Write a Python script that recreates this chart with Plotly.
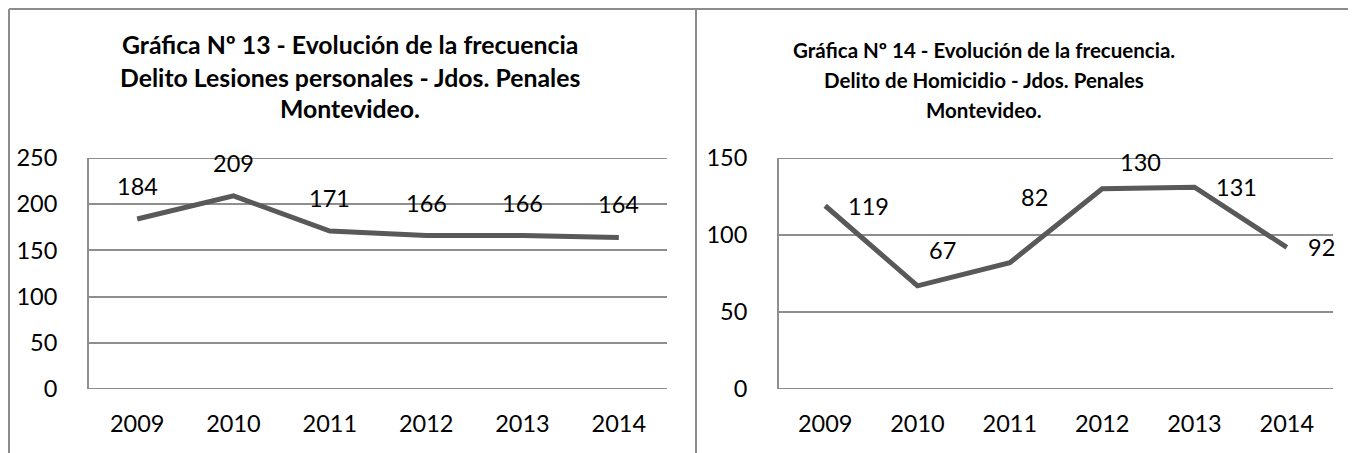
import plotly.graph_objects as go

years = ["2009", "2010", "2011", "2012", "2013", "2014"]
lesiones = [184, 209, 171, 166, 166, 164]
homicidio = [119, 67, 82, 130, 131, 92]
y_max_left = 250
y_max_right = 150

title_left = ["Gráfica Nº 13 - Evolución de la frecuencia",
              "Delito Lesiones personales - Jdos. Penales",
              "Montevideo."]
title_right = ["Gráfica Nº 14 - Evolución de la frecuencia.",
               "Delito de Homicidio - Jdos. Penales",
               "Montevideo."]

# label offsets (pixels) for data labels
left_shift = [(0, 33)] * 6
right_shift = [(43, 0), (25, 36), (25, 66), (38, 27), (42, 0), (35, 0)]

W, H = 1356, 453
OFF = 8  # page body margin
FONT = "Lato"
LINE = "#595959"
GRID = "#8e8e8e"
FS = 23.5

fig = go.Figure()
fig.add_trace(go.Scatter(x=years, y=lesiones, mode="lines",
                         line=dict(color=LINE, width=5), xaxis="x", yaxis="y",
                         hoverinfo="skip"))
fig.add_trace(go.Scatter(x=years, y=homicidio, mode="lines",
                         line=dict(color=LINE, width=5), xaxis="x2", yaxis="y2",
                         hoverinfo="skip"))

def px_x(p):
    return max(p - OFF, 1) / W

def px_y(p):
    return 1 - max(p - OFF, 1) / H

ydom = [px_y(389), px_y(158)]
common_x = dict(type="category", range=[-0.5, 5.5], showgrid=False, showline=False,
                zeroline=False, ticks="", tickfont=dict(family=FONT, size=FS, color="#000"),
                ticklabelstandoff=18, automargin=False)
common_y = dict(showgrid=True, gridcolor=GRID, gridwidth=2, showline=True, linecolor=GRID,
                linewidth=2, zeroline=False, ticks="", dtick=50, automargin=False,
                tickfont=dict(family=FONT, size=FS, color="#000"), ticklabelstandoff=25)

fig.update_layout(
    template="none",
    width=W, height=H, autosize=False,
    margin=dict(l=0, r=0, t=0, b=0, pad=0),
    paper_bgcolor="white", plot_bgcolor="white",
    showlegend=False,
    xaxis=dict(domain=[px_x(89), px_x(667)], anchor="y", **common_x),
    yaxis=dict(domain=ydom, anchor="x", range=[0, y_max_left], **common_y),
    xaxis2=dict(domain=[px_x(779), px_x(1333)], anchor="y2", **common_x),
    yaxis2=dict(domain=ydom, anchor="x2", range=[0, y_max_right], **common_y),
)

ann = []
for i, v in enumerate(lesiones):
    dx, dy = left_shift[i]
    ann.append(dict(x=i, y=v, xref="x", yref="y", text=str(v), showarrow=False,
                    xshift=dx, yshift=dy, font=dict(family=FONT, size=FS, color="#000")))
for i, v in enumerate(homicidio):
    dx, dy = right_shift[i]
    ann.append(dict(x=i, y=v, xref="x2", yref="y2", text=str(v), showarrow=False,
                    xshift=dx, yshift=dy, font=dict(family=FONT, size=FS, color="#000")))

for t, yy in zip(title_left, [45, 77, 108]):
    ann.append(dict(x=px_x(350), y=px_y(yy), xref="paper", yref="paper", text=f"<b>{t}</b>",
                    showarrow=False, xanchor="center", yanchor="middle",
                    font=dict(family=FONT, size=24.8, color="#000")))
for t, yy in zip(title_right, [50, 80, 110]):
    ann.append(dict(x=px_x(984), y=px_y(yy), xref="paper", yref="paper", text=f"<b>{t}</b>",
                    showarrow=False, xanchor="center", yanchor="middle",
                    font=dict(family=FONT, size=20.5, color="#000")))
fig.update_layout(annotations=ann)

border = dict(color="#8c8c8c", width=2)
grid_line = dict(color=GRID, width=2)
fig.update_layout(shapes=[
    dict(type="line", xref="paper", yref="paper", x0=px_x(6), x1=px_x(1356), y0=px_y(6), y1=px_y(6), line=border),
    dict(type="line", xref="paper", yref="paper", x0=px_x(6), x1=px_x(6), y0=px_y(6), y1=0, line=border),
    dict(type="line", xref="paper", yref="paper", x0=px_x(696), x1=px_x(696), y0=px_y(6), y1=0, line=border),
    dict(type="line", xref="x domain", yref="y", x0=0, x1=1, y0=y_max_left, y1=y_max_left, line=grid_line, layer="below"),
    dict(type="line", xref="x2 domain", yref="y2", x0=0, x1=1, y0=y_max_right, y1=y_max_right, line=grid_line, layer="below"),
    dict(type="line", xref="x domain", yref="y", x0=0, x1=1, y0=0, y1=0, line=grid_line, layer="below"),
    dict(type="line", xref="x2 domain", yref="y2", x0=0, x1=1, y0=0, y1=0, line=grid_line, layer="below"),
])

fig.write_html("out.html")
